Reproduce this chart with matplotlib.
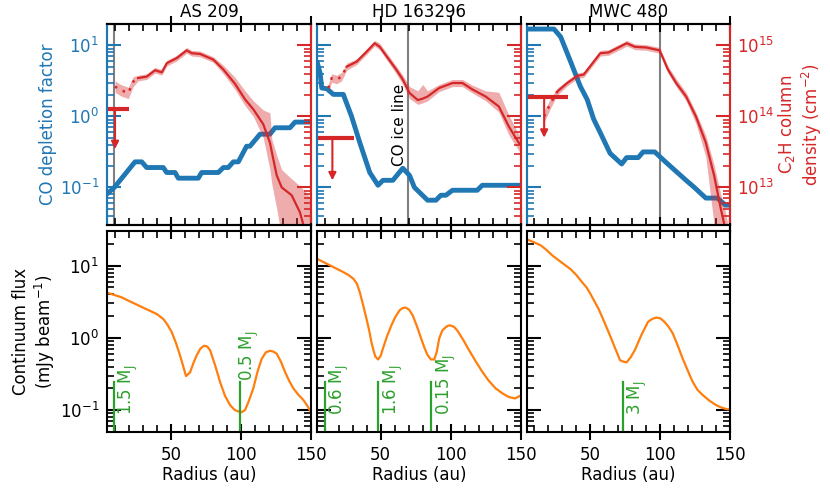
import numpy as np
import matplotlib
matplotlib.use('Agg')
import matplotlib.pyplot as plt
from matplotlib.ticker import MultipleLocator

# ---------------- data ----------------
disks = ['AS 209', 'HD 163296', 'MWC 480']

# CO depletion factor (log10)
as209_co_r = [5, 9.5, 24.3, 29.1, 32.6, 44.5, 46.9, 52.9, 55.2, 69.5, 71.9, 83.8, 87.4, 90.9,
              94.5, 98.1, 104, 106.4, 113.6, 120.7, 124.3, 135, 138.6, 150]
as209_co_log = [-1.08, -1.0, -0.64, -0.64, -0.72, -0.72, -0.79, -0.79, -0.87, -0.87, -0.79, -0.79,
                -0.72, -0.72, -0.64, -0.64, -0.42, -0.42, -0.25, -0.25, -0.16, -0.16, -0.08, -0.08]
hd_co_r = [4.8, 6.7, 7.9, 11.5, 16.2, 23.3, 29.2, 35.1, 42.2, 48.1, 51.6, 58.7, 65.8, 70.6,
           74.1, 83.5, 89.5, 93, 96.6, 101.3, 119, 122.6, 150]
hd_co_log = [0.75, 0.61, 0.40, 0.39, 0.31, 0.31, 0.0, -0.37, -0.79, -0.97, -0.9, -0.9, -0.73,
             -0.83, -1.0, -1.18, -1.18, -1.11, -1.11, -1.04, -1.04, -0.97, -0.97]
mwc_co_r = [5, 24, 28.8, 35.9, 42.9, 47.7, 52.4, 57.1, 64.1, 72.4, 75.9, 84.2, 87.7, 96,
            104.2, 118.4, 124.3, 132.5, 140.7, 146.6, 150]
mwc_co_log = [1.23, 1.23, 1.12, 0.77, 0.42, 0.24, -0.04, -0.23, -0.52, -0.67, -0.58, -0.58,
              -0.50, -0.50, -0.65, -0.90, -1.0, -1.15, -1.15, -1.25, -1.25]

# C2H column density (log10 cm^-2): radius, value, lower, upper
as209_c2h_r = [10, 14, 19.5, 23, 26.5, 32.6, 38.6, 43.4, 47, 54, 61.2, 64.8, 70.7, 80.2, 87.4,
               95.7, 102.9, 108.8, 115.9, 120.7, 122, 125.5, 129.1, 136.2, 142.1, 147, 150]
as209_c2h_log = [14.42, 14.37, 14.33, 14.49, 14.54, 14.56, 14.65, 14.62, 14.75, 14.82, 14.93,
                 14.89, 14.88, 14.80, 14.66, 14.46, 14.24, 14.10, 13.89, 13.63, 13.50, 13.17,
                 13.00, 12.89, 12.65, 12.30, 12.10]
as209_c2h_lo = [14.34, 14.29, 14.25, 14.42, 14.50, 14.52, 14.61, 14.58, 14.71, 14.78, 14.89,
                14.85, 14.84, 14.76, 14.60, 14.38, 14.15, 14.00, 13.70, 13.25, 13.05, 12.70,
                12.30, 12.00, 12.00, 11.80, 11.80]
as209_c2h_hi = [14.50, 14.45, 14.41, 14.56, 14.58, 14.60, 14.69, 14.66, 14.79, 14.86, 14.97,
                14.93, 14.92, 14.84, 14.72, 14.55, 14.36, 14.22, 14.09, 14.05, 13.68, 13.45,
                13.25, 13.12, 13.02, 12.92, 12.84]
hd_c2h_r = [12.6, 15, 18.6, 22.1, 25.7, 32.8, 39.9, 45.7, 49.3, 55.2, 61.1, 65.8, 70.6, 76.5,
            80, 83.5, 91.8, 101.3, 108.4, 115.5, 125, 134.4, 141.5, 148.6, 150]
hd_c2h_log = [14.40, 14.54, 14.52, 14.56, 14.70, 14.77, 14.91, 15.03, 14.98, 14.82, 14.66,
              14.52, 14.33, 14.23, 14.25, 14.28, 14.40, 14.47, 14.47, 14.38, 14.28, 14.14,
              13.86, 13.63, 13.60]
hd_c2h_lo = [14.34, 14.48, 14.46, 14.50, 14.65, 14.73, 14.87, 14.99, 14.94, 14.77, 14.60,
             14.45, 14.25, 14.17, 14.19, 14.22, 14.35, 14.42, 14.42, 14.33, 14.22, 14.06,
             13.74, 13.52, 13.50]
hd_c2h_hi = [14.46, 14.60, 14.58, 14.62, 14.75, 14.81, 14.95, 15.07, 15.03, 14.87, 14.71,
             14.58, 14.42, 14.36, 14.45, 14.36, 14.45, 14.52, 14.52, 14.44, 14.36, 14.34,
             14.02, 13.75, 13.70]
mwc_c2h_r = [17, 21.7, 26.4, 33.5, 40.6, 45.3, 57.1, 63, 76, 81.8, 90.1, 99.5, 105.4, 111.3,
             118.4, 125.4, 132.5, 138.4, 143.2, 146.6, 150]
mwc_c2h_log = [14.0, 14.19, 14.35, 14.47, 14.57, 14.59, 14.89, 14.90, 15.03, 14.98, 14.97,
               14.93, 14.66, 14.47, 14.28, 14.0, 13.63, 13.17, 12.70, 12.40, 12.00]
mwc_c2h_lo = [13.92, 14.12, 14.30, 14.43, 14.53, 14.55, 14.85, 14.86, 14.99, 14.94, 14.93,
              14.89, 14.61, 14.42, 14.22, 13.90, 13.43, 12.47, 11.90, 11.60, 11.50]
mwc_c2h_hi = [14.08, 14.26, 14.40, 14.51, 14.61, 14.63, 14.93, 14.94, 15.07, 15.02, 15.01,
              14.97, 14.71, 14.53, 14.34, 14.06, 13.73, 13.32, 12.90, 12.65, 12.30]
dotted_end = [26.5, 25.7, 26.4]

# C2H upper limits (inner region): bar extent, value, arrow tip
ul_rmax = [20, 31, 34]
ul_r = [10, 15.5, 17]
ul_log = [14.10, 13.70, 14.28]
ul_tip_log = [13.54, 13.10, 13.70]

# vertical reference lines
gray_r = [9.5, 69.5, 100]

# continuum flux (log10 mJy/beam)
as209_cont_r = [5.2, 10, 14.8, 20, 25.5, 32, 39.8, 44.5, 47.5, 50.5, 53.5, 56.4, 58.8, 60.7,
                63.6, 66, 68.4, 71, 73.6, 75.8, 77.9, 81.5, 85, 88.5, 92.1, 95.5, 98.1, 100.5,
                102.9, 105.5, 108.8, 111.8, 114.8, 117.8, 120.7, 123, 125.5, 128.5, 131.4,
                134.5, 137.4, 141, 144.5, 147, 150]
as209_cont_log = [0.62, 0.59, 0.56, 0.51, 0.46, 0.40, 0.33, 0.26, 0.18, 0.08, -0.07, -0.24,
                  -0.40, -0.53, -0.48, -0.35, -0.24, -0.15, -0.11, -0.12, -0.17, -0.38, -0.61,
                  -0.80, -0.93, -1.00, -1.02, -1.03, -1.00, -0.88, -0.70, -0.47, -0.29, -0.20,
                  -0.18, -0.19, -0.22, -0.33, -0.47, -0.60, -0.70, -0.79, -0.86, -0.93, -1.03]
hd_cont_r = [5, 10, 16.2, 23.3, 27, 30.4, 33, 35.1, 37.5, 39.9, 41.8, 43.4, 44.8, 46.2, 48.1,
             50, 51.6, 54.5, 57.6, 60.5, 63.5, 65.5, 67.7, 70.3, 72.9, 75.9, 78.9, 81.3, 83.5,
             85.9, 88.3, 90, 91.8, 94, 96.6, 98.5, 100.1, 102.5, 104.8, 109, 113.1, 118,
             122.6, 127, 132.1, 137, 141.5, 146, 150]
hd_cont_log = [1.09, 1.04, 0.98, 0.91, 0.87, 0.82, 0.75, 0.63, 0.45, 0.26, 0.10, -0.06,
               -0.17, -0.26, -0.30, -0.25, -0.15, 0.02, 0.17, 0.29, 0.38, 0.41, 0.42, 0.39,
               0.31, 0.16, -0.01, -0.14, -0.24, -0.30, -0.30, -0.20, -0.01, 0.10, 0.15, 0.17,
               0.17, 0.15, 0.10, -0.03, -0.17, -0.33, -0.47, -0.59, -0.70, -0.77, -0.82,
               -0.84, -0.80]
mwc_cont_r = [5, 9, 14.6, 18.5, 22.9, 29, 35.9, 40, 44.1, 47.2, 50, 52.8, 55.9, 59.5, 63,
              67, 71.2, 73.5, 75.9, 78.8, 81.8, 86.5, 91.2, 94, 97.1, 100, 103, 106, 108.9,
              112.5, 116, 119.5, 123.1, 126.5, 130.1, 135, 139.6, 144, 147.9, 150]
mwc_cont_log = [1.36, 1.33, 1.28, 1.22, 1.14, 1.05, 0.95, 0.87, 0.77, 0.70, 0.61, 0.51, 0.40,
                0.24, 0.08, -0.11, -0.31, -0.33, -0.34, -0.27, -0.17, 0.04, 0.22, 0.26, 0.28,
                0.27, 0.22, 0.15, 0.06, -0.11, -0.29, -0.45, -0.61, -0.72, -0.79, -0.87,
                -0.93, -0.97, -0.99, -0.99]

# planets
planet_r = [[9, 99], [10, 48, 86], [73]]
planet_lbl = [['1.5 M$_\\mathrm{J}$', '0.5 M$_\\mathrm{J}$'],
              ['0.6 M$_\\mathrm{J}$', '1.6 M$_\\mathrm{J}$', '0.15 M$_\\mathrm{J}$'],
              ['3 M$_\\mathrm{J}$']]

co_r = [as209_co_r, hd_co_r, mwc_co_r]
co_log = [as209_co_log, hd_co_log, mwc_co_log]
c2h_r = [as209_c2h_r, hd_c2h_r, mwc_c2h_r]
c2h_log = [as209_c2h_log, hd_c2h_log, mwc_c2h_log]
c2h_lo = [as209_c2h_lo, hd_c2h_lo, mwc_c2h_lo]
c2h_hi = [as209_c2h_hi, hd_c2h_hi, mwc_c2h_hi]
cont_r = [as209_cont_r, hd_cont_r, mwc_cont_r]
cont_log = [as209_cont_log, hd_cont_log, mwc_cont_log]

# ---------------- style ----------------
BLUE = '#1f77b4'
RED = '#d62728'
ORANGE = '#ff7f0e'
GREEN = '#2ca02c'
FS = 12
plt.rcParams['font.family'] = ['DejaVu Sans']
plt.rcParams['font.size'] = FS

fig = plt.figure(figsize=(8.3, 4.98), dpi=100)
gs = fig.add_gridspec(2, 3, left=0.1293, right=0.8799, top=0.9518, bottom=0.1331,
                      wspace=0.0295, hspace=0.033)

XLIM = (4.5, 150)


def style_x(ax, labels):
    ax.set_xlim(*XLIM)
    ax.xaxis.set_major_locator(MultipleLocator(50))
    ax.xaxis.set_minor_locator(MultipleLocator(10))
    ax.tick_params(axis='x', which='major', direction='inout', length=12, width=1.5,
                   top=True, bottom=True, labelbottom=labels, pad=4, labelsize=FS)
    ax.tick_params(axis='x', which='minor', direction='in', length=5, width=1.2,
                   top=True, bottom=True)


for i in range(3):
    ax = fig.add_subplot(gs[0, i])
    ax2 = ax.twinx()
    axb = fig.add_subplot(gs[1, i])

    # ---- top: CO depletion (blue) ----
    ax.set_yscale('log')
    ax.set_ylim(0.03, 20)
    ax.axvline(gray_r[i], color='gray', lw=1.5, zorder=1)
    ax.plot(co_r[i], 10 ** np.array(co_log[i]), color=BLUE, lw=3.5, zorder=2)
    style_x(ax, False)
    ax.tick_params(axis='y', which='major', direction='in', length=10, width=1.5,
                   colors=BLUE, left=True, right=False, labelleft=(i == 0), pad=6, labelsize=FS)
    ax.tick_params(axis='y', which='minor', direction='in', length=5, width=1.2,
                   colors=BLUE, left=True, right=False)
    for s in ax.spines.values():
        s.set_linewidth(1.5)
    ax.spines['left'].set_color(BLUE)
    ax.spines['right'].set_color(RED)
    ax.set_title(disks[i], fontsize=FS, pad=5)
    if i == 0:
        ax.set_ylabel('CO depletion factor', color=BLUE, fontsize=FS, labelpad=2)
    if i == 1:
        ax.text(gray_r[i] - 0.5, 10 ** -0.12, 'CO ice line', rotation=90, ha='right',
                va='center', fontsize=11)

    # ---- top: C2H (red) ----
    ax2.set_yscale('log')
    ax2.set_ylim(3e12, 2e15)
    r = np.array(c2h_r[i])
    n = 10 ** np.array(c2h_log[i])
    ax2.fill_between(r, 10 ** np.array(c2h_lo[i]), 10 ** np.array(c2h_hi[i]),
                     color=RED, alpha=0.38, lw=0)
    k = int(np.searchsorted(r, dotted_end[i] + 0.01))
    ax2.plot(r[:k], n[:k], ls=(0, (1, 2.5)), color=RED, lw=1.8)
    ax2.plot(r[k - 1:], n[k - 1:], '-', color=RED, lw=1.6)
    ax2.plot([0, ul_rmax[i]], [10 ** ul_log[i]] * 2, color=RED, lw=3, solid_capstyle='butt')
    ax2.annotate('', xy=(ul_r[i], 10 ** ul_tip_log[i]), xytext=(ul_r[i], 10 ** ul_log[i]),
                 arrowprops=dict(arrowstyle='-|>', color=RED, lw=1.5, mutation_scale=11,
                                 shrinkA=0, shrinkB=0))
    ax2.tick_params(axis='y', which='major', direction='in', length=10, width=1.5,
                    colors=RED, right=True, left=False, labelright=(i == 2), pad=5, labelsize=FS)
    ax2.tick_params(axis='y', which='minor', direction='in', length=5, width=1.2,
                    colors=RED, right=True, left=False, labelright=False)
    for s in ax2.spines.values():
        s.set_linewidth(1.5)
    ax2.spines['left'].set_color(BLUE)
    ax2.spines['right'].set_color(RED)
    ax2.set_xlim(*XLIM)
    if i == 2:
        ax2.set_ylabel('C$_2$H column\ndensity (cm$^{-2}$)', color=RED, fontsize=FS,
                       labelpad=1, linespacing=1.15)

    # ---- bottom: continuum ----
    axb.set_yscale('log')
    axb.set_ylim(0.05, 30)
    axb.plot(cont_r[i], 10 ** np.array(cont_log[i]), color=ORANGE, lw=1.6)
    for j, (pr, pl) in enumerate(zip(planet_r[i], planet_lbl[i])):
        axb.plot([pr, pr], [0.05, 0.245], color=GREEN, lw=1.6)
        if i == 0 and j == 1:
            axb.text(pr - 1.0, 0.25, pl, rotation=90, ha='left', va='bottom', color=GREEN,
                     fontsize=FS)
        else:
            axb.text(pr + 2.5, 0.084, pl, rotation=90, ha='left', va='bottom', color=GREEN,
                     fontsize=FS)
    style_x(axb, True)
    axb.tick_params(axis='y', which='major', direction='in', length=10, width=1.5,
                    left=True, right=True, labelleft=(i == 0), pad=6, labelsize=FS)
    axb.tick_params(axis='y', which='minor', direction='in', length=5, width=1.2,
                    left=True, right=True)
    for s in axb.spines.values():
        s.set_linewidth(1.5)
    axb.set_xlabel('Radius (au)', fontsize=FS, labelpad=2)
    if i == 0:
        axb.set_ylabel('Continuum flux\n(mJy beam$^{-1}$)', fontsize=FS, labelpad=2,
                       linespacing=1.15)

fig.savefig('out.png', dpi=100)
